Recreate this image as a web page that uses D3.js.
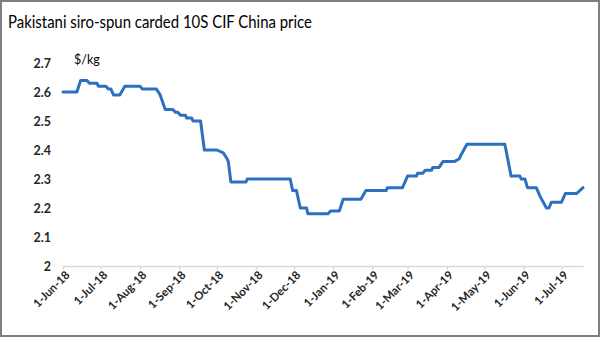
<!DOCTYPE html>
<html>
<head>
<meta charset="utf-8">
<script src="https://cdn.jsdelivr.net/npm/d3@7"></script>
<style>
  html, body { margin: 0; padding: 0; background: #fff; }
  svg { display: block; }
  text { font-family: Lato, "Open Sans", sans-serif; }
</style>
</head>
<body>
<svg id="chart" width="600" height="337"></svg>
<script>
const titleText = "Pakistani siro-spun carded 10S CIF China price";
const unitLabel = "$/kg";
const dates = [
  "2018-06-01","2018-06-12","2018-06-15","2018-06-20","2018-06-22","2018-06-28","2018-06-29","2018-07-05",
  "2018-07-07","2018-07-09","2018-07-11","2018-07-16","2018-07-20","2018-08-01","2018-08-03","2018-08-14",
  "2018-08-17","2018-08-21","2018-08-27","2018-08-29","2018-08-31","2018-09-02","2018-09-06","2018-09-07",
  "2018-09-11","2018-09-12","2018-09-18","2018-09-21","2018-10-01","2018-10-06","2018-10-09","2018-10-10",
  "2018-10-12","2018-10-24","2018-10-25","2018-11-28","2018-11-30","2018-12-03","2018-12-06","2018-12-11",
  "2018-12-12","2018-12-28","2018-12-30","2019-01-06","2019-01-09","2019-01-23","2019-01-27","2019-02-12",
  "2019-02-13","2019-02-25","2019-03-01","2019-03-08","2019-03-09","2019-03-13","2019-03-15","2019-03-20",
  "2019-03-21","2019-03-26","2019-03-29","2019-04-07","2019-04-11","2019-04-12","2019-04-17","2019-05-17",
  "2019-05-18","2019-05-22","2019-05-29","2019-05-30","2019-06-02","2019-06-04","2019-06-11","2019-06-14",
  "2019-06-19","2019-06-21","2019-06-23","2019-07-01","2019-07-04","2019-07-13","2019-07-18"
];
const prices = [
  2.60,2.60,2.64,2.64,2.63,2.63,2.62,2.62,
  2.61,2.61,2.59,2.59,2.62,2.62,2.61,2.61,
  2.59,2.54,2.54,2.53,2.53,2.52,2.52,2.51,
  2.51,2.50,2.50,2.40,2.40,2.39,2.37,2.36,
  2.29,2.29,2.30,2.30,2.26,2.26,2.20,2.20,
  2.18,2.18,2.19,2.19,2.23,2.23,2.26,2.26,
  2.27,2.27,2.31,2.31,2.32,2.32,2.33,2.33,
  2.34,2.34,2.36,2.36,2.37,2.38,2.42,2.42,
  2.40,2.31,2.31,2.30,2.30,2.27,2.27,2.24,
  2.20,2.20,2.22,2.22,2.25,2.25,2.27
];
const xTickLabels = ["1-Jun-18","1-Jul-18","1-Aug-18","1-Sep-18","1-Oct-18","1-Nov-18","1-Dec-18",
  "1-Jan-19","1-Feb-19","1-Mar-19","1-Apr-19","1-May-19","1-Jun-19","1-Jul-19"];
const yTicks = [2, 2.1, 2.2, 2.3, 2.4, 2.5, 2.6, 2.7];
const xDomain = ["2018-06-01", "2019-07-18"];

const parse = d3.timeParse("%Y-%m-%d");
const parseTick = d3.timeParse("%d-%b-%y");
const data = dates.map((d, i) => ({ date: parse(d), value: prices[i] }));

const svg = d3.select("#chart");
const W = 600, H = 337;

svg.append("rect").attr("x", 1).attr("y", 1).attr("width", W - 2).attr("height", H - 2)
  .attr("fill", "#fff").attr("stroke", "#7f7f7f").attr("stroke-width", 2);

const x = d3.scaleTime().domain(xDomain.map(parse)).range([63, 583]);
const y = d3.scaleLinear().domain([2, 2.7]).range([266, 63]);

// Title
svg.append("text").attr("x", 8).attr("y", 28)
  .attr("font-size", 18).attr("fill", "#000")
  .attr("textLength", 304).attr("lengthAdjust", "spacingAndGlyphs")
  .text(titleText);

// unit
svg.append("text").attr("x", 74).attr("y", 64).attr("font-size", 12.5)
  .attr("fill", "#000").text(unitLabel);

// Y axis labels
const yAxis = svg.append("g").attr("transform", "translate(63,0)")
  .call(d3.axisLeft(y).tickValues(yTicks).tickSize(0).tickPadding(12)
    .tickFormat(d => String(+d.toFixed(1))));
yAxis.select(".domain").remove();
yAxis.selectAll("text").attr("font-size", 12.5).attr("font-weight", "bold")
  .attr("fill", "#262626").style("font-family", "Lato, sans-serif");

// X axis
const xAxis = svg.append("g").attr("transform", "translate(0,266)")
  .call(d3.axisBottom(x).tickValues(xTickLabels.map(parseTick)).tickSize(4).tickSizeOuter(0)
    .tickFormat(d3.timeFormat("%-d-%b-%y")));
xAxis.select(".domain").attr("stroke", "#d9d9d9").attr("stroke-width", 1.5);
xAxis.selectAll(".tick line").attr("stroke", "#d9d9d9").attr("stroke-width", 1.5);
xAxis.selectAll("text")
  .attr("font-size", 11.5).attr("font-weight", "bold").attr("fill", "#262626")
  .style("font-family", "Lato, sans-serif")
  .attr("text-anchor", "end")
  .attr("transform", "translate(4,7) rotate(-45)")
  .attr("x", 0).attr("y", 0).attr("dy", "0.35em");

// Line
const line = d3.line().x(d => x(d.date)).y(d => y(d.value));
svg.append("path").datum(data).attr("d", line)
  .attr("fill", "none").attr("stroke", "#2e70c0").attr("stroke-width", 3)
  .attr("stroke-linejoin", "round").attr("stroke-linecap", "round");
</script>
</body>
</html>
